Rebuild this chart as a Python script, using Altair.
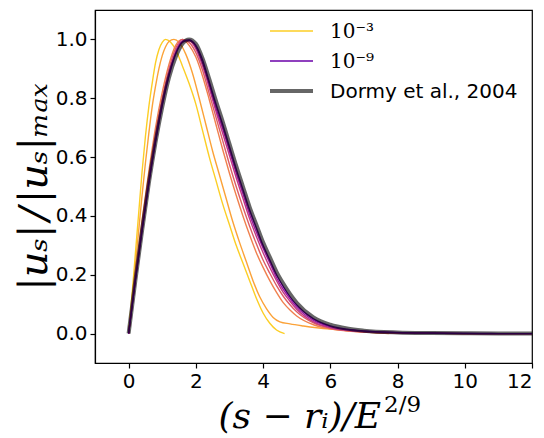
import altair as alt
import pandas as pd

# ---- data ----
E_LABELS = ["10⁻³", "10⁻⁴", "10⁻⁵", "10⁻⁶", "10⁻⁷", "10⁻⁸", "10⁻⁹"]
E_COLORS = ["#fcce25", "#fba238", "#f0804e", "#dc5c67", "#c03a83", "#9c179e", "#6a00a8"]
DORMY_LABEL = "Dormy et al., 2004"

X_E3 = [0, 0.1, 0.2, 0.3, 0.4, 0.5, 0.6, 0.7, 0.8, 0.9, 1.0, 1.1, 1.25, 1.4, 1.6, 1.8,
        2.0, 2.2, 2.4, 2.6, 2.8, 3.0, 3.2, 3.4, 3.6, 3.8, 4.0, 4.2, 4.4, 4.64]
Y_E3 = [0, 0.13, 0.27, 0.41, 0.55, 0.67, 0.77, 0.85, 0.92, 0.965, 0.99, 1.0, 0.99, 0.965, 0.91, 0.85,
        0.78, 0.69, 0.60, 0.52, 0.44, 0.37, 0.30, 0.24, 0.18, 0.12, 0.07, 0.035, 0.012, 0.0]

X_E4 = [0, 0.1, 0.2, 0.3, 0.4, 0.5, 0.6, 0.7, 0.8, 0.9, 1.0, 1.1, 1.2, 1.35, 1.5, 1.7, 1.9,
        2.1, 2.3, 2.5, 2.7, 2.9, 3.1, 3.3, 3.5, 3.7, 3.9, 4.1, 4.3, 4.5, 4.8, 5.2, 5.6,
        6.0, 6.5, 7.0, 7.4, 7.74]
Y_E4 = [0, 0.11, 0.23, 0.35, 0.47, 0.58, 0.68, 0.77, 0.84, 0.90, 0.945, 0.975, 0.993, 1.0, 0.99, 0.95, 0.885,
        0.80, 0.71, 0.62, 0.54, 0.46, 0.38, 0.31, 0.245, 0.18, 0.125, 0.085, 0.055, 0.04, 0.033, 0.026, 0.02,
        0.015, 0.01, 0.006, 0.003, 0.0]

X_GRID = [0, 0.2, 0.4, 0.6, 0.8, 1.0, 1.2, 1.4, 1.6, 1.8, 2.0, 2.2, 2.4, 2.6, 2.8, 3.0, 3.2, 3.4,
          3.6, 3.8, 4.0, 4.2, 4.4, 4.6, 4.8, 5.0, 5.5, 6.0, 6.5, 7.0, 8, 9, 10, 11, 12]
Y_E5 = [0, 0.20, 0.385, 0.55, 0.70, 0.82, 0.915, 0.98, 1.0, 0.98, 0.94, 0.875, 0.795, 0.71, 0.625, 0.545, 0.47, 0.40,
        0.335, 0.275, 0.225, 0.18, 0.14, 0.105, 0.08, 0.06, 0.03, 0.016, 0.009, 0.005, 0.002, 0.001, 0, 0, 0]
Y_E6 = [0, 0.19, 0.37, 0.53, 0.68, 0.80, 0.90, 0.97, 1.0, 0.99, 0.955, 0.895, 0.815, 0.735, 0.655, 0.575, 0.50, 0.43,
        0.365, 0.305, 0.25, 0.205, 0.163, 0.127, 0.098, 0.074, 0.036, 0.018, 0.01, 0.005, 0.002, 0.001, 0, 0, 0]
Y_E7 = [0, 0.185, 0.36, 0.52, 0.665, 0.79, 0.89, 0.96, 0.996, 0.995, 0.968, 0.91, 0.835, 0.755, 0.68, 0.605, 0.53, 0.46,
        0.39, 0.33, 0.275, 0.225, 0.18, 0.14, 0.11, 0.083, 0.04, 0.02, 0.011, 0.006, 0.002, 0.001, 0, 0, 0]
Y_E8 = [0, 0.18, 0.35, 0.51, 0.655, 0.78, 0.88, 0.955, 0.993, 0.997, 0.975, 0.92, 0.845, 0.765, 0.695, 0.62, 0.545, 0.475,
        0.405, 0.345, 0.29, 0.24, 0.19, 0.15, 0.118, 0.09, 0.045, 0.023, 0.013, 0.008, 0.003, 0.001, 0, 0, 0]
Y_E9 = [0, 0.18, 0.35, 0.51, 0.65, 0.775, 0.875, 0.95, 0.99, 0.998, 0.98, 0.93, 0.855, 0.78, 0.71, 0.635, 0.56, 0.49,
        0.42, 0.36, 0.30, 0.25, 0.20, 0.16, 0.125, 0.097, 0.05, 0.026, 0.015, 0.009, 0.004, 0.002, 0.001, 0, 0]
Y_DORMY = [0, 0.18, 0.35, 0.51, 0.65, 0.77, 0.87, 0.94, 0.985, 1.0, 0.985, 0.935, 0.865, 0.79, 0.72, 0.645, 0.57, 0.50,
           0.43, 0.37, 0.31, 0.26, 0.21, 0.17, 0.135, 0.105, 0.055, 0.03, 0.017, 0.01, 0.004, 0.002, 0.001, 0.0005, 0]

X_TICKS = [0, 2, 4, 6, 8, 10, 12]
Y_TICKS = [0.0, 0.2, 0.4, 0.6, 0.8, 1.0]
X_TITLE_MAIN = "(s − rᵢ)/E"
X_TITLE_SUP = "2/9"
Y_TITLE = "|uₛ|\u200a/\u200a|uₛ|ₘₐₓ"

# ---- tables ----
series_xy = [(X_E3, Y_E3), (X_E4, Y_E4), (X_GRID, Y_E5), (X_GRID, Y_E6),
             (X_GRID, Y_E7), (X_GRID, Y_E8), (X_GRID, Y_E9)]
rows = []
for lab, (xs, ys) in zip(E_LABELS, series_xy):
    for xv, yv in zip(xs, ys):
        rows.append({"x": xv, "y": yv, "series": lab})
curves = pd.DataFrame(rows)
dormy = pd.DataFrame({"x": X_GRID, "y": Y_DORMY, "series": DORMY_LABEL})

xscale = alt.Scale(domain=[-1, 12], nice=False, zero=False)
yscale = alt.Scale(domain=[-0.1, 1.1], nice=False, zero=False)

xenc = alt.X("x:Q", scale=xscale,
             axis=alt.Axis(values=X_TICKS, format="d", title=None))
yenc = alt.Y("y:Q", scale=yscale,
             axis=alt.Axis(values=Y_TICKS, format=".1f", title=Y_TITLE,
                           titleFont="DejaVu Serif", titleFontStyle="italic",
                           titleFontSize=40, titleFontWeight="normal", titlePadding=1))

curve_layer = alt.Chart(curves).mark_line(
    strokeWidth=1.4, interpolate="monotone", clip=True
).encode(
    x=xenc, y=yenc,
    color=alt.Color("series:N", scale=alt.Scale(domain=E_LABELS, range=E_COLORS), legend=None),
)

dormy_layer = alt.Chart(dormy).mark_line(
    color="black", opacity=0.6, strokeWidth=4, interpolate="monotone", clip=True
).encode(x=xenc, y=yenc)

# ---- x title with a real superscript ----
title_src = alt.Chart(pd.DataFrame({"main": [X_TITLE_MAIN], "sup": [X_TITLE_SUP]}))
xtitle_main = title_src.mark_text(
    align="right", baseline="alphabetic", font="DejaVu Serif", fontStyle="italic",
    fontSize=36, color="black"
).encode(x=alt.value(286), y=alt.value(418), text="main:N")
xtitle_sup = title_src.mark_text(
    align="left", baseline="alphabetic", font="DejaVu Serif",
    fontSize=23, color="black"
).encode(x=alt.value(289), y=alt.value(402), text="sup:N")

# ---- legend (drawn in the plot's top right, as in the reference) ----
legend_entries = [(E_LABELS[0], E_COLORS[0], 1.4, 1.0, "DejaVu Serif"),
                  (E_LABELS[-1], E_COLORS[-1], 1.4, 1.0, "DejaVu Serif"),
                  (DORMY_LABEL, "black", 4, 0.6, "DejaVu Sans")]
legend_layers = []
for i, (lab, col, sw, op, font) in enumerate(legend_entries):
    ypix = 21 + 30 * i
    src = alt.Chart(pd.DataFrame({"label": [lab]}))
    legend_layers.append(
        src.mark_rule(color=col, strokeWidth=sw, opacity=op).encode(
            x=alt.value(175), x2=alt.value(218), y=alt.value(ypix))
    )
    legend_layers.append(
        src.mark_text(align="left", baseline="middle", font=font, fontSize=20,
                      color="black", dy=1).encode(
            x=alt.value(235), y=alt.value(ypix), text="label:N")
    )

chart = alt.layer(curve_layer, dormy_layer, xtitle_main, xtitle_sup, *legend_layers).properties(
    width=437, height=353,
    background="white",
    autosize=alt.AutoSizeParams(type="none"),
    padding={"left": 95, "top": 10, "right": 12, "bottom": 75},
).configure_view(
    stroke="black", strokeWidth=1.2
).configure_axis(
    labelFont="DejaVu Sans", labelFontSize=20, labelColor="black",
    titleColor="black", domainColor="black", tickColor="black",
    tickSize=5, labelPadding=3, grid=False, domainWidth=1.2, tickWidth=1.2
)

chart.save("out.html", embed_options={"renderer": "svg", "actions": False})
